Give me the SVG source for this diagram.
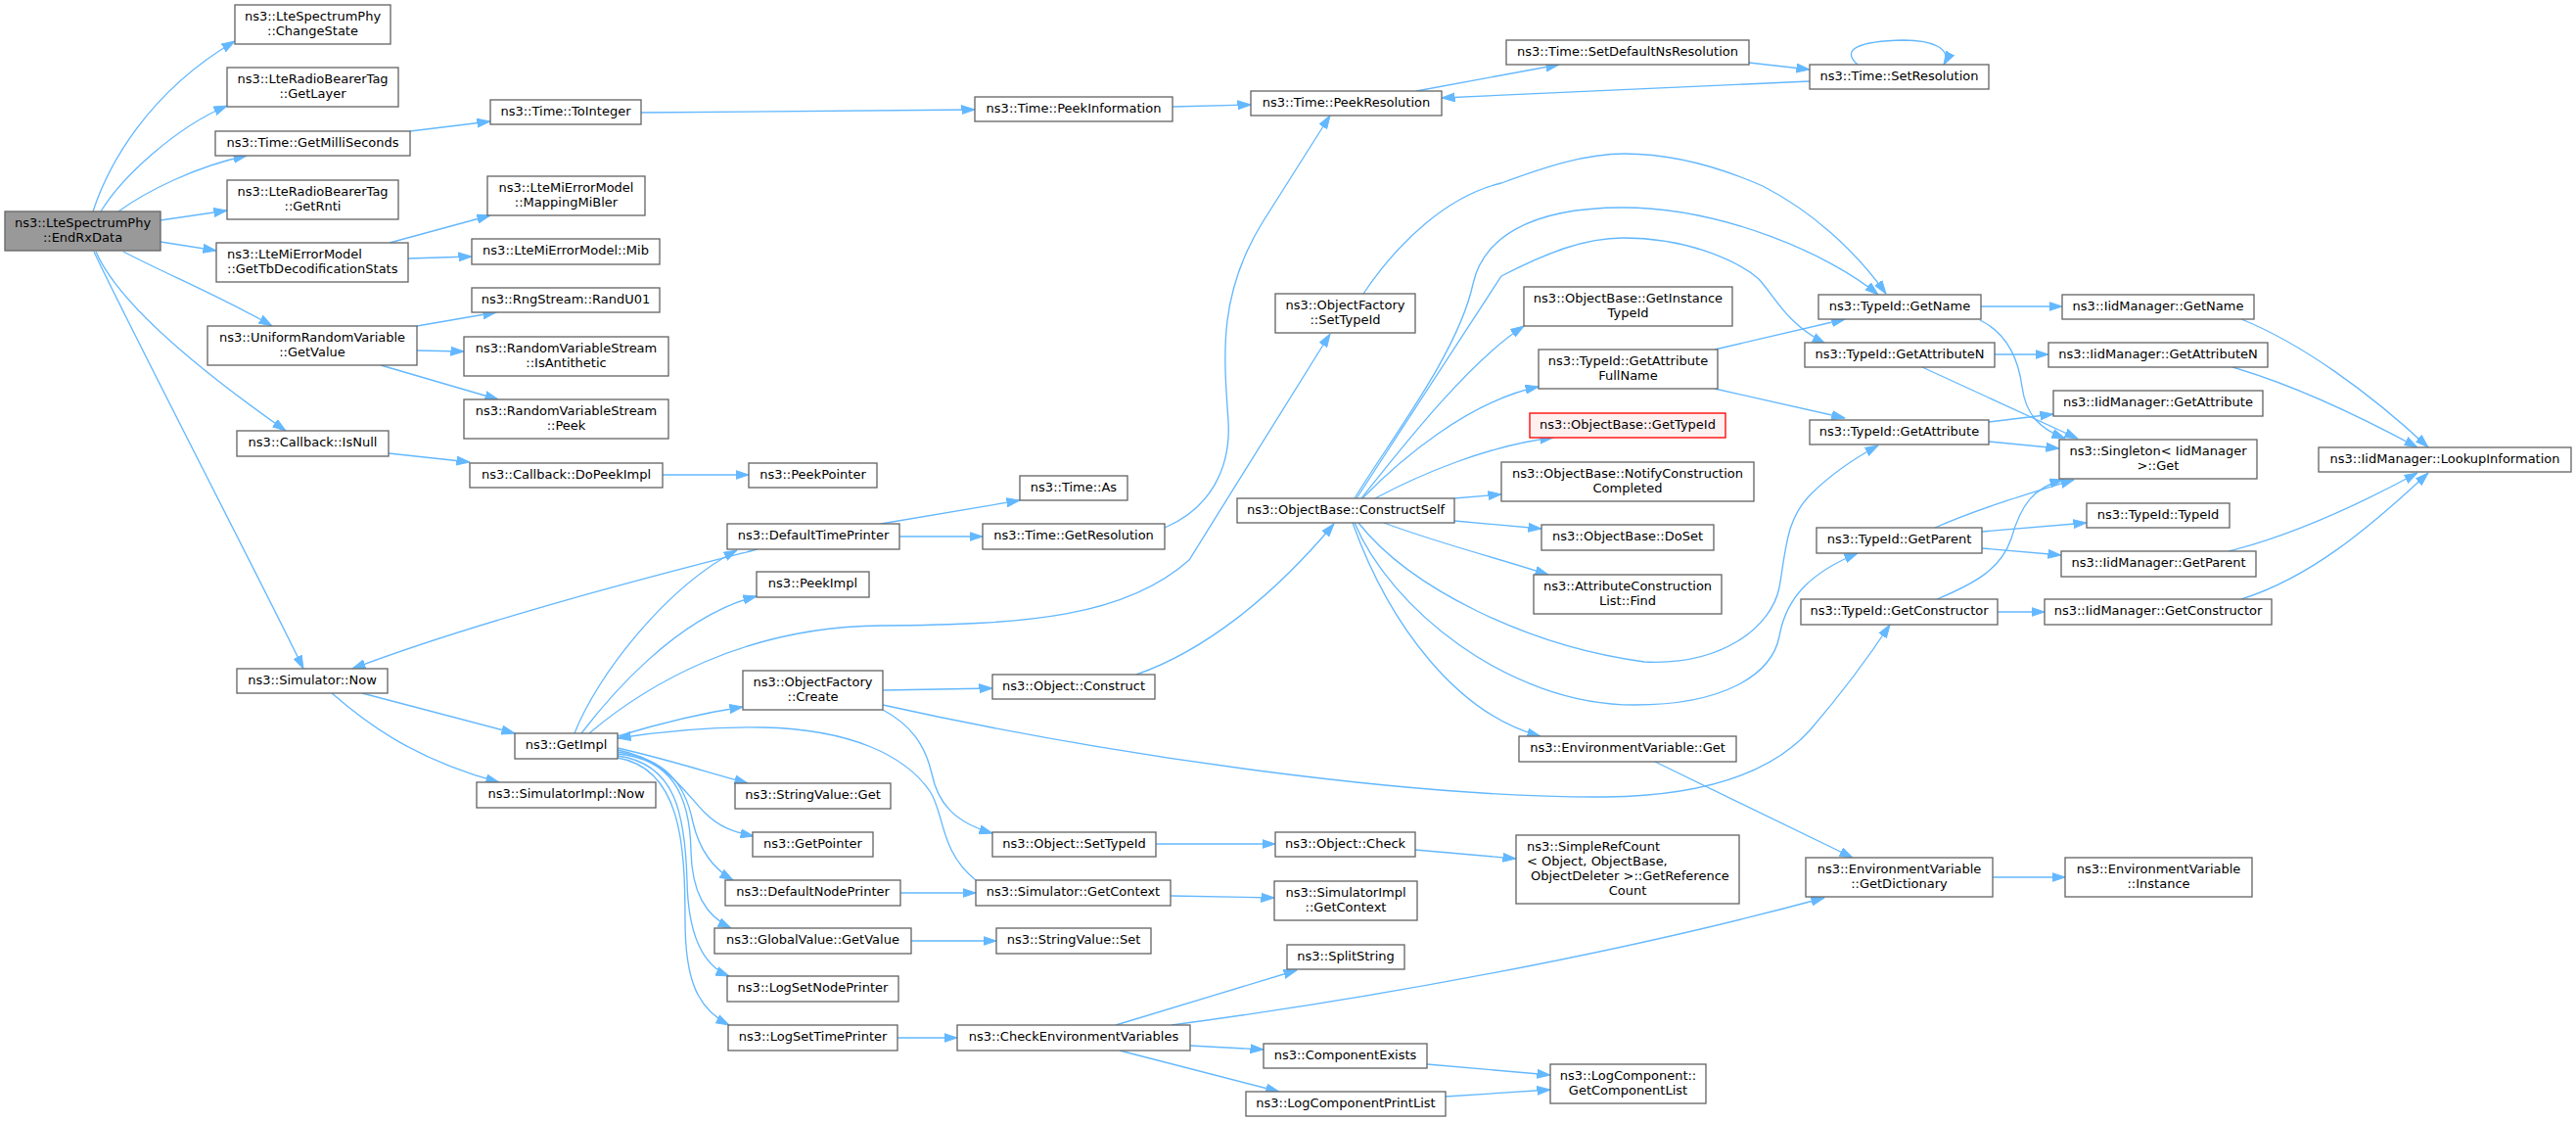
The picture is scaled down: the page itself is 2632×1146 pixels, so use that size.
<svg xmlns="http://www.w3.org/2000/svg" width="2632" height="1146" viewBox="0 0 2632 1146">
<style>
.n rect{fill:#ffffff;stroke:#666666;stroke-width:1.33}
.n text{font-family:"DejaVu Sans","Liberation Sans",sans-serif;font-size:13px;fill:#000000;text-anchor:middle}
.n text.l{text-anchor:start}
#n_EndRxData rect{fill:#999999}
#n_GetTypeId rect{fill:#fff0f0;stroke:#ff0000}
.e path{fill:none;stroke:#63b8ff;stroke-width:1.33;marker-end:url(#ah)}
</style>
<defs>
<marker id="ah" viewBox="0 0 14 10" refX="13.5" refY="5" markerWidth="14" markerHeight="10" markerUnits="userSpaceOnUse" orient="auto">
<path d="M0,0.5 L13.5,5 L0,9.5 Z" fill="#63b8ff" stroke="#63b8ff" stroke-width="1"/>
</marker>
</defs>
<rect x="0" y="0" width="2632" height="1146" fill="#ffffff"/>
<g id="edges" class="e">
<path d="M95,216 C110,170 150,95 240,42"/>
<path d="M103,216 C125,180 180,130 232,108"/>
<path d="M121,216 C150,195 200,170 252,159"/>
<path d="M164,225 L232,215"/>
<path d="M164,247 L221,256"/>
<path d="M126,257 C170,280 230,305 278,333"/>
<path d="M98,257 C125,320 235,400 292,440"/>
<path d="M96,257 C125,320 270,600 310,683"/>
<path d="M419,134 L501,124"/>
<path d="M655,115 L996,112"/>
<path d="M1198,109 L1278,107"/>
<path d="M1447,93 L1593,66"/>
<path d="M1787,64 L1849,71"/>
<path d="M1849,83 L1473,100"/>
<path d="M1898,66 C1880,50 1900,42 1945,41 C1975,41 1995,50 1986,66"/>
<path d="M398,248 L501,220"/>
<path d="M417,264 L482,262"/>
<path d="M426,333 L507,319"/>
<path d="M426,358 L474,359"/>
<path d="M389,373 L509,408"/>
<path d="M397,463 L480,472"/>
<path d="M677,485 L765,485"/>
<path d="M370,708 L526,749"/>
<path d="M339,708 C370,735 420,775 510,799"/>
<path d="M774,561 C700,580 500,630 360,683"/>
<path d="M587,749 C610,690 680,600 753,562"/>
<path d="M594,749 C620,715 690,630 773,609"/>
<path d="M602,749 C660,700 760,640 900,639 C1050,638 1150,630 1215,572 L1359,341"/>
<path d="M631,752 C670,740 720,728 759,722"/>
<path d="M997,899 C960,870 965,830 950,808 C925,772 870,745 780,743 C720,742 670,748 631,754"/>
<path d="M902,705 L1014,703"/>
<path d="M902,725 C930,740 945,760 952,790 C958,820 975,840 1014,851"/>
<path d="M902,720 C1150,775 1450,815 1640,814 C1740,813 1810,790 1850,745 C1880,710 1910,670 1931,638"/>
<path d="M1161,689 C1230,665 1300,610 1363,535"/>
<path d="M1190,539 C1235,520 1258,480 1255,430 C1250,360 1245,300 1290,227 L1359,118"/>
<path d="M900,535 L1042,511"/>
<path d="M919,548 L1004,548"/>
<path d="M1384,509 C1420,450 1490,360 1505,290 C1515,245 1560,212 1658,212 C1760,212 1870,260 1919,301"/>
<path d="M1386,509 L1534,282 C1580,258 1620,243 1658,243 C1730,243 1780,270 1797,285 C1815,305 1825,330 1865,351"/>
<path d="M1391,509 C1430,460 1500,370 1557,333"/>
<path d="M1392,509 C1430,470 1500,410 1572,395"/>
<path d="M1405,509 C1450,485 1520,455 1587,447"/>
<path d="M1486,509 L1534,505"/>
<path d="M1486,532 L1575,540"/>
<path d="M1414,534 C1470,555 1530,570 1582,587"/>
<path d="M1388,534 C1440,600 1560,660 1680,676 C1760,680 1810,640 1818,600 C1825,560 1825,530 1850,505 C1870,485 1895,468 1919,455"/>
<path d="M1384,534 C1420,620 1540,720 1670,720 C1760,720 1810,690 1818,650 C1825,610 1850,585 1898,565"/>
<path d="M1382,534 C1420,640 1490,730 1574,752"/>
<path d="M1393,300 C1430,245 1480,200 1534,187 C1580,170 1620,157 1660,157 C1710,157 1760,172 1801,190 C1850,215 1895,255 1927,300"/>
<path d="M1752,357 L1885,326"/>
<path d="M1752,397 L1885,427"/>
<path d="M2024,313 L2107,313"/>
<path d="M2023,327 C2050,340 2062,365 2066,395 C2070,425 2085,438 2110,448"/>
<path d="M2038,362 L2093,362"/>
<path d="M1964,375 L2123,448"/>
<path d="M2290,326 C2350,350 2420,400 2481,457"/>
<path d="M2281,375 C2350,395 2420,430 2470,457"/>
<path d="M2032,431 L2098,423"/>
<path d="M2032,451 L2104,458"/>
<path d="M1977,539 C2020,520 2070,505 2119,490"/>
<path d="M2025,543 L2132,534"/>
<path d="M2025,560 L2106,567"/>
<path d="M1979,612 C2020,595 2045,580 2055,550 C2065,515 2078,498 2108,490"/>
<path d="M2041,625 L2089,625"/>
<path d="M2277,563 C2350,545 2420,510 2470,483"/>
<path d="M2290,612 C2360,590 2420,540 2481,483"/>
<path d="M631,764 C680,775 720,788 764,800"/>
<path d="M631,766 C680,775 700,810 720,830 C735,845 750,850 770,854"/>
<path d="M631,768 C680,775 700,800 708,840 C715,870 730,888 749,899"/>
<path d="M631,770 C685,775 705,810 706,870 C707,910 720,935 747,948"/>
<path d="M631,772 C690,780 700,830 702,900 C703,950 715,985 745,997"/>
<path d="M631,774 C695,785 700,860 700,940 C700,1000 712,1030 745,1047"/>
<path d="M920,912 L997,912"/>
<path d="M931,961 L1018,961"/>
<path d="M917,1060 L978,1060"/>
<path d="M1181,862 L1303,862"/>
<path d="M1196,915 L1302,917"/>
<path d="M1446,868 L1549,877"/>
<path d="M1140,1047 L1325,991"/>
<path d="M1197,1047 C1400,1020 1650,975 1864,917"/>
<path d="M1216,1068 L1291,1072"/>
<path d="M1144,1073 L1307,1115"/>
<path d="M1458,1087 L1584,1098"/>
<path d="M1477,1120 L1584,1113"/>
<path d="M1691,778 L1893,876"/>
<path d="M2036,896 L2110,896"/>
</g>
<g id="n_EndRxData" class="n"><rect x="5" y="216" width="159" height="40"/><text x="84.5" y="232">ns3::LteSpectrumPhy</text><text x="84.5" y="247">::EndRxData</text></g>
<g id="n_ChangeState" class="n"><rect x="240" y="5" width="159" height="40"/><text x="319.5" y="21">ns3::LteSpectrumPhy</text><text x="319.5" y="36">::ChangeState</text></g>
<g id="n_GetLayer" class="n"><rect x="232" y="69" width="175" height="40"/><text x="319.5" y="85">ns3::LteRadioBearerTag</text><text x="319.5" y="100">::GetLayer</text></g>
<g id="n_GetMilliSeconds" class="n"><rect x="220" y="134" width="199" height="25"/><text x="319.5" y="150">ns3::Time::GetMilliSeconds</text></g>
<g id="n_GetRnti" class="n"><rect x="232" y="184" width="175" height="40"/><text x="319.5" y="200">ns3::LteRadioBearerTag</text><text x="319.5" y="215">::GetRnti</text></g>
<g id="n_GetTbDecodificationStats" class="n"><rect x="221" y="248" width="196" height="40"/><text class="l" x="232" y="264">ns3::LteMiErrorModel</text><text class="l" x="232" y="279">::GetTbDecodificationStats</text></g>
<g id="n_URVGetValue" class="n"><rect x="212" y="333" width="214" height="40"/><text x="319" y="349">ns3::UniformRandomVariable</text><text x="319" y="364">::GetValue</text></g>
<g id="n_IsNull" class="n"><rect x="242" y="440" width="155" height="26"/><text x="319.5" y="456">ns3::Callback::IsNull</text></g>
<g id="n_SimNow" class="n"><rect x="242" y="683" width="154" height="25"/><text x="319" y="699">ns3::Simulator::Now</text></g>
<g id="n_ToInteger" class="n"><rect x="501" y="102" width="154" height="25"/><text x="578" y="118">ns3::Time::ToInteger</text></g>
<g id="n_MappingMiBler" class="n"><rect x="498" y="180" width="161" height="40"/><text x="578.5" y="196">ns3::LteMiErrorModel</text><text x="578.5" y="211">::MappingMiBler</text></g>
<g id="n_Mib" class="n"><rect x="482" y="244" width="192" height="26"/><text x="578" y="260">ns3::LteMiErrorModel::Mib</text></g>
<g id="n_RandU01" class="n"><rect x="482" y="294" width="192" height="25"/><text x="578" y="310">ns3::RngStream::RandU01</text></g>
<g id="n_IsAntithetic" class="n"><rect x="474" y="344" width="209" height="40"/><text x="578.5" y="360">ns3::RandomVariableStream</text><text x="578.5" y="375">::IsAntithetic</text></g>
<g id="n_Peek" class="n"><rect x="474" y="408" width="209" height="40"/><text x="578.5" y="424">ns3::RandomVariableStream</text><text x="578.5" y="439">::Peek</text></g>
<g id="n_DoPeekImpl" class="n"><rect x="480" y="473" width="197" height="25"/><text x="578.5" y="489">ns3::Callback::DoPeekImpl</text></g>
<g id="n_GetImpl" class="n"><rect x="526" y="749" width="105" height="26"/><text x="578.5" y="765">ns3::GetImpl</text></g>
<g id="n_SimImplNow" class="n"><rect x="487" y="799" width="183" height="26"/><text x="578.5" y="815">ns3::SimulatorImpl::Now</text></g>
<g id="n_PeekPointer" class="n"><rect x="765" y="473" width="131" height="25"/><text x="830.5" y="489">ns3::PeekPointer</text></g>
<g id="n_DefaultTimePrinter" class="n"><rect x="743" y="535" width="176" height="26"/><text x="831" y="551">ns3::DefaultTimePrinter</text></g>
<g id="n_PeekImpl" class="n"><rect x="773" y="584" width="115" height="26"/><text x="830.5" y="600">ns3::PeekImpl</text></g>
<g id="n_OFCreate" class="n"><rect x="759" y="685" width="143" height="40"/><text x="830.5" y="701">ns3::ObjectFactory</text><text x="830.5" y="716">::Create</text></g>
<g id="n_StringValueGet" class="n"><rect x="751" y="800" width="159" height="26"/><text x="830.5" y="816">ns3::StringValue::Get</text></g>
<g id="n_GetPointer" class="n"><rect x="769" y="850" width="123" height="25"/><text x="830.5" y="866">ns3::GetPointer</text></g>
<g id="n_DefaultNodePrinter" class="n"><rect x="741" y="899" width="179" height="26"/><text x="830.5" y="915">ns3::DefaultNodePrinter</text></g>
<g id="n_GlobalValueGetValue" class="n"><rect x="730" y="948" width="201" height="26"/><text x="830.5" y="964">ns3::GlobalValue::GetValue</text></g>
<g id="n_LogSetNodePrinter" class="n"><rect x="743" y="997" width="175" height="26"/><text x="830.5" y="1013">ns3::LogSetNodePrinter</text></g>
<g id="n_LogSetTimePrinter" class="n"><rect x="744" y="1047" width="173" height="26"/><text x="830.5" y="1063">ns3::LogSetTimePrinter</text></g>
<g id="n_PeekInformation" class="n"><rect x="996" y="99" width="202" height="25"/><text x="1097" y="115">ns3::Time::PeekInformation</text></g>
<g id="n_TimeAs" class="n"><rect x="1042" y="486" width="110" height="25"/><text x="1097" y="502">ns3::Time::As</text></g>
<g id="n_TimeGetResolution" class="n"><rect x="1004" y="535" width="186" height="26"/><text x="1097" y="551">ns3::Time::GetResolution</text></g>
<g id="n_ObjConstruct" class="n"><rect x="1014" y="689" width="166" height="25"/><text x="1097" y="705">ns3::Object::Construct</text></g>
<g id="n_ObjSetTypeId" class="n"><rect x="1014" y="850" width="167" height="25"/><text x="1097.5" y="866">ns3::Object::SetTypeId</text></g>
<g id="n_SimGetContext" class="n"><rect x="997" y="899" width="199" height="26"/><text x="1096.5" y="915">ns3::Simulator::GetContext</text></g>
<g id="n_StringValueSet" class="n"><rect x="1018" y="948" width="158" height="26"/><text x="1097" y="964">ns3::StringValue::Set</text></g>
<g id="n_CheckEnv" class="n"><rect x="978" y="1047" width="238" height="26"/><text x="1097" y="1063">ns3::CheckEnvironmentVariables</text></g>
<g id="n_PeekResolution" class="n"><rect x="1278" y="93" width="195" height="25"/><text x="1375.5" y="109">ns3::Time::PeekResolution</text></g>
<g id="n_OFSetTypeId" class="n"><rect x="1303" y="300" width="143" height="40"/><text x="1374.5" y="316">ns3::ObjectFactory</text><text x="1374.5" y="331">::SetTypeId</text></g>
<g id="n_ConstructSelf" class="n"><rect x="1264" y="509" width="222" height="25"/><text x="1375" y="525">ns3::ObjectBase::ConstructSelf</text></g>
<g id="n_ObjCheck" class="n"><rect x="1303" y="850" width="143" height="25"/><text x="1374.5" y="866">ns3::Object::Check</text></g>
<g id="n_SimImplGetContext" class="n"><rect x="1302" y="900" width="146" height="40"/><text x="1375" y="916">ns3::SimulatorImpl</text><text x="1375" y="931">::GetContext</text></g>
<g id="n_SplitString" class="n"><rect x="1315" y="965" width="120" height="25"/><text x="1375" y="981">ns3::SplitString</text></g>
<g id="n_ComponentExists" class="n"><rect x="1291" y="1066" width="167" height="25"/><text x="1374.5" y="1082">ns3::ComponentExists</text></g>
<g id="n_LogComponentPrintList" class="n"><rect x="1273" y="1115" width="204" height="25"/><text x="1375" y="1131">ns3::LogComponentPrintList</text></g>
<g id="n_SetDefaultNsResolution" class="n"><rect x="1539" y="41" width="248" height="25"/><text x="1663" y="57">ns3::Time::SetDefaultNsResolution</text></g>
<g id="n_GetInstanceTypeId" class="n"><rect x="1557" y="293" width="213" height="40"/><text x="1663.5" y="309">ns3::ObjectBase::GetInstance</text><text x="1663.5" y="324">TypeId</text></g>
<g id="n_GetAttributeFullName" class="n"><rect x="1572" y="357" width="183" height="40"/><text x="1663.5" y="373">ns3::TypeId::GetAttribute</text><text x="1663.5" y="388">FullName</text></g>
<g id="n_GetTypeId" class="n"><rect x="1563" y="422" width="200" height="25"/><text x="1663" y="438">ns3::ObjectBase::GetTypeId</text></g>
<g id="n_NotifyConstructionCompleted" class="n"><rect x="1534" y="472" width="258" height="40"/><text x="1663" y="488">ns3::ObjectBase::NotifyConstruction</text><text x="1663" y="503">Completed</text></g>
<g id="n_DoSet" class="n"><rect x="1575" y="536" width="176" height="26"/><text x="1663" y="552">ns3::ObjectBase::DoSet</text></g>
<g id="n_ACLFind" class="n"><rect x="1567" y="587" width="192" height="40"/><text x="1663" y="603">ns3::AttributeConstruction</text><text x="1663" y="618">List::Find</text></g>
<g id="n_EnvGet" class="n"><rect x="1552" y="752" width="222" height="26"/><text x="1663" y="768">ns3::EnvironmentVariable::Get</text></g>
<g id="n_SimpleRefCount" class="n"><rect x="1549" y="853" width="228" height="70"/><text class="l" x="1560" y="869">ns3::SimpleRefCount</text><text class="l" x="1560" y="884">&lt; Object, ObjectBase,</text><text class="l" x="1564" y="899">ObjectDeleter &gt;::GetReference</text><text x="1663" y="914">Count</text></g>
<g id="n_GetComponentList" class="n"><rect x="1584" y="1087" width="159" height="40"/><text x="1663.5" y="1103">ns3::LogComponent::</text><text x="1663.5" y="1118">GetComponentList</text></g>
<g id="n_SetResolution" class="n"><rect x="1849" y="66" width="183" height="25"/><text x="1940.5" y="82">ns3::Time::SetResolution</text></g>
<g id="n_TIGetName" class="n"><rect x="1858" y="301" width="166" height="25"/><text x="1941" y="317">ns3::TypeId::GetName</text></g>
<g id="n_TIGetAttributeN" class="n"><rect x="1844" y="350" width="194" height="25"/><text x="1941" y="366">ns3::TypeId::GetAttributeN</text></g>
<g id="n_TIGetAttribute" class="n"><rect x="1849" y="429" width="183" height="25"/><text x="1940.5" y="445">ns3::TypeId::GetAttribute</text></g>
<g id="n_TIGetParent" class="n"><rect x="1856" y="539" width="169" height="26"/><text x="1940.5" y="555">ns3::TypeId::GetParent</text></g>
<g id="n_TIGetConstructor" class="n"><rect x="1840" y="612" width="201" height="26"/><text x="1940.5" y="628">ns3::TypeId::GetConstructor</text></g>
<g id="n_GetDictionary" class="n"><rect x="1845" y="876" width="191" height="40"/><text x="1940.5" y="892">ns3::EnvironmentVariable</text><text x="1940.5" y="907">::GetDictionary</text></g>
<g id="n_IMGetName" class="n"><rect x="2107" y="301" width="196" height="25"/><text x="2205" y="317">ns3::IidManager::GetName</text></g>
<g id="n_IMGetAttributeN" class="n"><rect x="2093" y="350" width="224" height="25"/><text x="2205" y="366">ns3::IidManager::GetAttributeN</text></g>
<g id="n_IMGetAttribute" class="n"><rect x="2098" y="399" width="214" height="26"/><text x="2205" y="415">ns3::IidManager::GetAttribute</text></g>
<g id="n_SingletonGet" class="n"><rect x="2104" y="449" width="202" height="40"/><text x="2205" y="465">ns3::Singleton&lt; IidManager</text><text x="2205" y="480">&gt;::Get</text></g>
<g id="n_TypeIdTypeId" class="n"><rect x="2132" y="514" width="146" height="25"/><text x="2205" y="530">ns3::TypeId::TypeId</text></g>
<g id="n_IMGetParent" class="n"><rect x="2106" y="563" width="199" height="26"/><text x="2205.5" y="579">ns3::IidManager::GetParent</text></g>
<g id="n_IMGetConstructor" class="n"><rect x="2089" y="612" width="232" height="26"/><text x="2205" y="628">ns3::IidManager::GetConstructor</text></g>
<g id="n_EnvInstance" class="n"><rect x="2110" y="876" width="191" height="40"/><text x="2205.5" y="892">ns3::EnvironmentVariable</text><text x="2205.5" y="907">::Instance</text></g>
<g id="n_LookupInformation" class="n"><rect x="2369" y="457" width="258" height="25"/><text x="2498" y="473">ns3::IidManager::LookupInformation</text></g>
</svg>
